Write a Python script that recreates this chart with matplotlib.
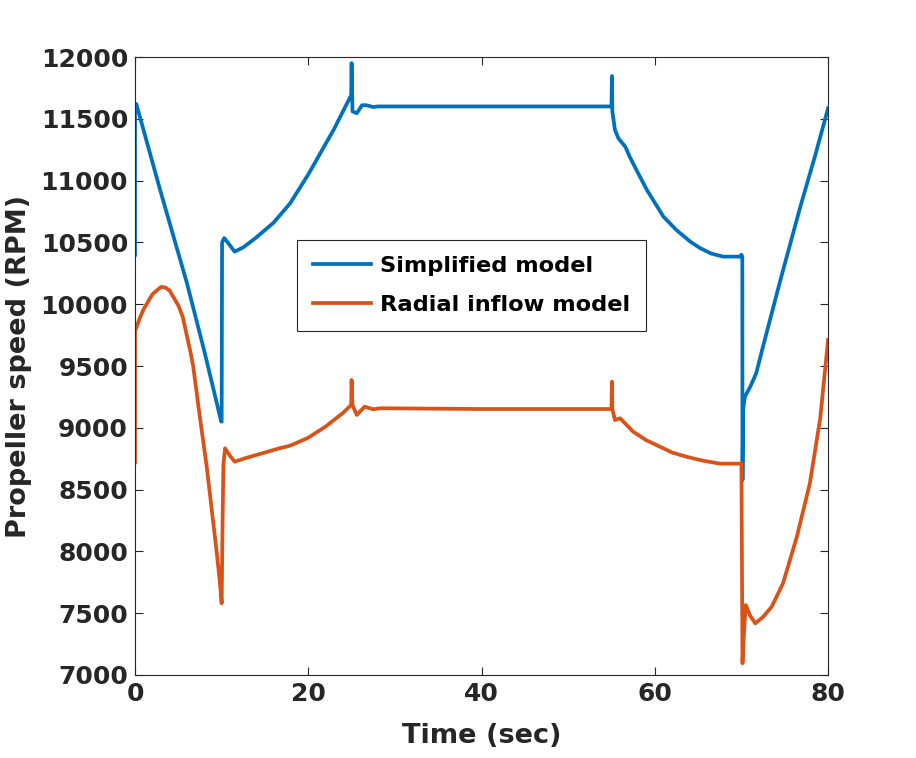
import numpy as np
import matplotlib.pyplot as plt

# Propeller speed over time
t_simple = [0, 0, 0.15, 2.9, 6, 8, 9.95, 10.0, 10.05, 10.3, 10.7, 11.5, 12.5, 14, 16, 17.9,
            20, 21.7, 23, 24, 24.95, 25.0, 25.1, 25.6, 26.2, 26.7, 27.5, 28, 40, 55.0,
            55.05, 55.1, 55.4, 55.8, 56.6, 57.1, 58, 59.1, 61.0, 62.5, 64.1, 65.2, 66.5,
            67.9, 69.9, 70.0, 70.1, 70.12, 70.2, 70.4, 71.0, 71.7, 72.5, 74.5, 76.8,
            78.5, 80]
rpm_simple = [10400, 11620, 11620, 10924, 10169, 9620, 9050, 9050, 10500, 10535, 10500,
              10425, 10460, 10540, 10660, 10816, 11050, 11260, 11420, 11560, 11690,
              11950, 11560, 11545, 11610, 11610, 11595, 11600, 11600, 11600, 11846,
              11560, 11410, 11342, 11274, 11193, 11070, 10923, 10708, 10600, 10506,
              10455, 10410, 10385, 10385, 10400, 10385, 8578, 9150, 9252, 9330, 9440,
              9660, 10196, 10789, 11200, 11585]

t_radial = [0, 0, 0.5, 1, 2, 3, 3.5, 4, 5, 5.5, 6.35, 6.7, 7.5, 8.27, 9.4, 9.8, 10.0,
            10.1, 10.2, 10.4, 11.0, 11.5, 13, 15, 16.7, 17.9, 20, 22, 24, 24.95, 25.0,
            25.1, 25.6, 26.5, 27.5, 28.3, 40, 55.0, 55.05, 55.1, 55.4, 56, 57.5, 59,
            60.6, 62, 63.7, 65.5, 67.5, 70.0, 70.12, 70.3, 70.5, 71.0, 71.6, 72.5,
            73.5, 74.8, 76.4, 77.9, 79.1, 80]
rpm_radial = [8720, 9780, 9880, 9960, 10080, 10140, 10135, 10110, 9990, 9900, 9629,
              9506, 9080, 8690, 8011, 7750, 7580, 8200, 8700, 8834, 8770, 8726, 8760,
              8800, 8835, 8855, 8920, 9010, 9120, 9185, 9387, 9185, 9104, 9171, 9150,
              9158, 9152, 9152, 9373, 9150, 9063, 9077, 8969, 8900, 8847, 8800, 8765,
              8735, 8710, 8710, 7095, 7350, 7566, 7480, 7418, 7470, 7553, 7742, 8119,
              8551, 9080, 9710]

labels = ["Simplified model", "Radial inflow model"]
colors = ["#0072BD", "#D95319"]
dark = "#262626"

fig = plt.figure(figsize=(9.16, 7.58), dpi=100)
ax = fig.add_axes([0.1474, 0.1095, 0.7566, 0.8153])

ax.plot(t_simple, rpm_simple, color=colors[0], lw=2.7, label=labels[0])
ax.plot(t_radial, rpm_radial, color=colors[1], lw=2.7, label=labels[1])

ax.set_xlim(0, 80)
ax.set_ylim(7000, 12000)
ax.set_xticks(np.arange(0, 81, 20))
ax.set_yticks(np.arange(7000, 12001, 500))

ax.tick_params(direction="in", length=6, width=0.8, colors=dark, labelsize=18,
               top=True, right=True, pad=5)
for lab in ax.get_xticklabels() + ax.get_yticklabels():
    lab.set_fontweight("bold")
for sp in ax.spines.values():
    sp.set_color(dark)
    sp.set_linewidth(0.8)

ax.set_xlabel("Time (sec)", fontsize=19.5, fontweight="bold", color=dark, labelpad=12)
ax.set_ylabel("Propeller speed (RPM)", fontsize=19.5, fontweight="bold", color=dark,
              labelpad=6)

leg = ax.legend(loc="upper left", bbox_to_anchor=(0.234, 0.704), borderaxespad=0,
                fancybox=False, framealpha=1, edgecolor=dark, handlelength=2.6,
                prop={"weight": "bold", "size": 16.2}, borderpad=0.7,
                labelspacing=0.85, handletextpad=0.4)
leg.get_frame().set_linewidth(0.8)

fig.savefig("out.png", dpi=100)
